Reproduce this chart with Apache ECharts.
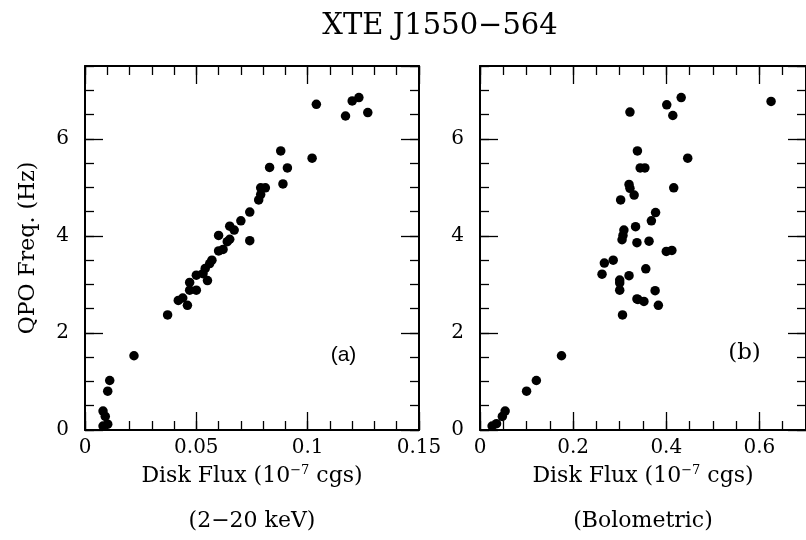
<!DOCTYPE html>
<html>
<head>
<meta charset="utf-8">
<script src="https://cdn.jsdelivr.net/npm/echarts@6/dist/echarts.min.js"></script>
<style>html,body{margin:0;padding:0;background:#fff;}#c{width:806px;height:540px;}</style>
</head>
<body>
<div id="c"></div>
<script>
// Panel (a): disk flux 2-20 keV vs QPO frequency
const fluxA = [0.0081,0.0102,0.0081,0.0091,0.0102,0.0111,0.022,0.0371,0.0419,0.0439,0.046,0.047,0.047,0.050,0.050,0.053,0.054,0.055,0.056,0.057,0.060,0.062,0.060,0.0639,0.065,0.065,0.067,0.070,0.074,0.074,0.078,0.0789,0.0789,0.081,0.0829,0.0889,0.0879,0.0909,0.102,0.1039,0.117,0.120,0.123,0.127];
const qpoA  = [0.08,0.12,0.39,0.28,0.80,1.02,1.53,2.37,2.67,2.72,2.57,2.88,3.04,2.88,3.19,3.22,3.33,3.08,3.43,3.50,3.69,3.72,4.01,3.88,3.93,4.20,4.12,4.31,4.49,3.90,4.74,4.85,4.99,4.99,5.41,5.07,5.75,5.40,5.60,6.71,6.47,6.78,6.85,6.54];
// Panel (b): bolometric disk flux vs QPO frequency
const fluxB = [0.026,0.0355,0.048,0.054,0.100,0.121,0.175,0.306,0.262,0.267,0.286,0.300,0.300,0.300,0.320,0.337,0.339,0.352,0.356,0.376,0.383,0.305,0.307,0.309,0.334,0.337,0.363,0.368,0.377,0.400,0.412,0.302,0.331,0.320,0.322,0.416,0.344,0.354,0.338,0.446,0.322,0.401,0.414,0.432,0.625];
const qpoB  = [0.08,0.13,0.28,0.39,0.80,1.02,1.53,2.37,3.21,3.44,3.50,3.09,3.03,2.88,3.18,2.70,2.69,2.65,3.32,2.87,2.57,3.92,4.01,4.12,4.19,3.86,3.89,4.31,4.48,3.68,3.70,4.74,4.84,5.06,4.98,4.99,5.40,5.40,5.75,5.60,6.55,6.70,6.48,6.85,6.77];

const titleText = 'XTE J1550\u2212564';
const yName = 'QPO Freq. (Hz)';
const xNameLine1 = 'Disk Flux (10{sup|\u22127} cgs)';
const xNameA2 = '(2\u221220 keV)';
const xNameB2 = '(Bolometric)';
const xRangeA = [0, 0.15, 0.05, 0.01];
const xRangeB = [0, 0.7, 0.2, 0.05];
const yRange = [0, 7.5, 2, 0.5];

const FONT = 'DejaVu Serif';
const MAJ = 18, MIN = 9;

function xAxes(grid, r, name2) {
  const base = {gridIndex: grid, type: 'value', min: r[0], max: r[1], splitLine: {show: false}};
  const line = {show: true, onZero: false, lineStyle: {color: '#000', width: 2}};
  const noLine = {show: false, onZero: false};
  return [
    Object.assign({}, base, {position: 'bottom', interval: r[2], axisLine: line,
      axisTick: {inside: true, length: MAJ, lineStyle: {color: '#000', width: 1.3}},
      axisLabel: {show: true, margin: 8, fontFamily: FONT, fontSize: 20, color: '#000', showMaxLabel: r[1] === 0.15},
      name: xNameLine1, nameLocation: 'middle', nameGap: 34,
      nameTextStyle: {fontFamily: FONT, fontSize: 22, color: '#000',
        rich: {sup: {fontFamily: FONT, fontSize: 13, color: '#000', padding: [0, 0, 12, 0]}}}}),
    Object.assign({}, base, {position: 'bottom', interval: r[3], axisLine: noLine,
      axisTick: {inside: true, length: MIN, lineStyle: {color: '#000', width: 1.3}},
      axisLabel: {show: false},
      name: name2, nameLocation: 'middle', nameGap: 80,
      nameTextStyle: {fontFamily: FONT, fontSize: 22, color: '#000'}}),
    Object.assign({}, base, {position: 'top', interval: r[2], axisLine: line,
      axisTick: {inside: true, length: MAJ, lineStyle: {color: '#000', width: 1.3}},
      axisLabel: {show: false}}),
    Object.assign({}, base, {position: 'top', interval: r[3], axisLine: noLine,
      axisTick: {inside: true, length: MIN, lineStyle: {color: '#000', width: 1.3}},
      axisLabel: {show: false}})
  ];
}
function yAxes(grid, r, withName) {
  const base = {gridIndex: grid, type: 'value', min: r[0], max: r[1], splitLine: {show: false}};
  const line = {show: true, onZero: false, lineStyle: {color: '#000', width: 2}};
  const noLine = {show: false, onZero: false};
  const main = Object.assign({}, base, {position: 'left', interval: r[2], axisLine: line,
      axisTick: {inside: true, length: MAJ, lineStyle: {color: '#000', width: 1.3}},
      axisLabel: {show: true, margin: 16, fontFamily: FONT, fontSize: 20, color: '#000', showMaxLabel: false}});
  if (withName) {
    Object.assign(main, {name: yName, nameLocation: 'middle', nameGap: 46,
      nameTextStyle: {fontFamily: FONT, fontSize: 22, color: '#000'}});
  }
  return [
    main,
    Object.assign({}, base, {position: 'left', interval: r[3], axisLine: noLine,
      axisTick: {inside: true, length: MIN, lineStyle: {color: '#000', width: 1.3}}, axisLabel: {show: false}}),
    Object.assign({}, base, {position: 'right', interval: r[2], axisLine: line,
      axisTick: {inside: true, length: MAJ, lineStyle: {color: '#000', width: 1.3}}, axisLabel: {show: false}}),
    Object.assign({}, base, {position: 'right', interval: r[3], axisLine: noLine,
      axisTick: {inside: true, length: MIN, lineStyle: {color: '#000', width: 1.3}}, axisLabel: {show: false}})
  ];
}

const chart = echarts.init(document.getElementById('c'), null, {renderer: 'canvas'});
chart.setOption({
  animation: false,
  backgroundColor: '#fff',
  grid: [
    {left: 85, top: 66, width: 334, height: 364},
    {left: 480, top: 66, width: 333, height: 364}
  ],
  xAxis: xAxes(0, xRangeA, xNameA2).concat(xAxes(1, xRangeB, xNameB2)),
  yAxis: yAxes(0, yRange, true).concat(yAxes(1, yRange, false)),
  graphic: [
    {type: 'text', x: 440, y: 26, style: {text: titleText, font: '29px "DejaVu Serif"', fill: '#000', align: 'center', verticalAlign: 'middle'}},
    {type: 'text', x: 343.5, y: 355, style: {text: '(a)', font: '21px "Liberation Sans"', fill: '#000', align: 'center', verticalAlign: 'middle'}},
    {type: 'text', x: 744.5, y: 353, style: {text: '(b)', font: '23px "DejaVu Serif"', fill: '#000', align: 'center', verticalAlign: 'middle'}}
  ],
  series: [
    {type: 'scatter', xAxisIndex: 0, yAxisIndex: 0, symbol: 'circle', symbolSize: 9.5,
      itemStyle: {color: '#000', opacity: 1}, data: fluxA.map((v, i) => [v, qpoA[i]])},
    {type: 'scatter', xAxisIndex: 4, yAxisIndex: 4, symbol: 'circle', symbolSize: 9.5,
      itemStyle: {color: '#000', opacity: 1}, data: fluxB.map((v, i) => [v, qpoB[i]])}
  ]
});
</script>
</body>
</html>
